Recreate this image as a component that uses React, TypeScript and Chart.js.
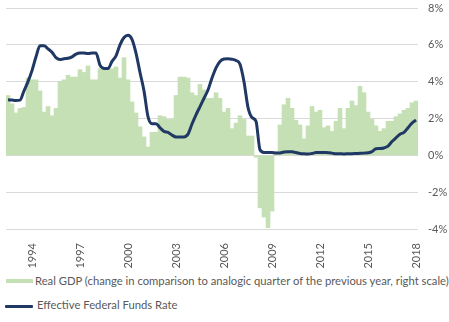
import React, { useEffect, useRef } from "react";
import { Chart, registerables } from "chart.js";

Chart.register(...registerables);

// Quarterly categories: 1993 Q1 ... 2018 Q3
const firstYear = 1993;
const quarterCount = 103;
const quarterLabels: string[] = [];
for (let k = 0; k < quarterCount; k++) {
  quarterLabels.push(`${firstYear + Math.floor(k / 4)} Q${(k % 4) + 1}`);
}

// Year labels shown on the axis (placed at the Q3 category of each year)
const tickYears = ["1994", "1997", "2000", "2003", "2006", "2009", "2012", "2015", "2018"];
const tickQuarter = "Q3";

// Right-scale ticks
const yMin = -4;
const yMax = 8;
const yStep = 2;

// Real GDP, % change vs same quarter of previous year
const gdpGrowth: number[] = [
  3.25, 2.8, 2.3, 2.55, // 1993
  2.6, 4.2, 4.1, 4.1, // 1994
  3.5, 2.35, 2.65, 2.15, // 1995
  2.55, 4.0, 4.1, 4.35, // 1996
  4.25, 4.25, 4.65, 4.5, // 1997
  4.85, 4.1, 4.1, 4.7, // 1998
  4.65, 4.7, 4.7, 4.8, // 1999
  4.2, 5.3, 4.1, 2.9, // 2000
  2.3, 1.55, 1.0, 0.45, // 2001
  1.25, 1.25, 2.15, 2.1, // 2002
  1.95, 1.95, 3.25, 4.25, // 2003
  4.25, 4.2, 3.4, 3.25, // 2004
  3.85, 3.55, 3.1, 3.1, // 2005
  3.4, 3.1, 2.35, 2.55, // 2006
  1.45, 1.75, 2.15, 1.95, // 2007
  1.05, 1.05, -0.1, -2.85, // 2008
  -3.35, -3.93, -3.03, 0.2, // 2009
  1.65, 2.75, 3.1, 2.55, // 2010
  1.9, 1.65, 0.9, 1.6, // 2011
  2.65, 2.35, 2.45, 1.5, // 2012
  1.6, 1.3, 1.85, 2.55, // 2013
  1.45, 2.55, 2.95, 2.7, // 2014
  3.75, 3.4, 2.35, 1.95, // 2015
  1.6, 1.3, 1.45, 1.85, // 2016
  1.85, 2.1, 2.25, 2.45, // 2017
  2.55, 2.85, 2.95, // 2018
];

// Effective Federal Funds Rate, %
const fedFundsRate: number[] = [
  3.02, 3.0, 2.98, 3.0, // 1993
  3.5, 4.0, 4.6, 5.35, // 1994
  5.95, 5.95, 5.78, 5.6, // 1995
  5.3, 5.2, 5.25, 5.27, // 1996
  5.35, 5.5, 5.56, 5.55, // 1997
  5.53, 5.55, 5.56, 4.9, // 1998
  4.72, 4.71, 5.1, 5.4, // 1999
  6.0, 6.4, 6.52, 6.3, // 2000
  5.55, 4.5, 3.5, 2.1, // 2001
  1.72, 1.72, 1.5, 1.3, // 2002
  1.25, 1.1, 1.0, 1.0, // 2003
  1.0, 1.15, 1.7, 2.2, // 2004
  2.65, 3.1, 3.55, 4.2, // 2005
  4.75, 5.1, 5.23, 5.25, // 2006
  5.22, 5.15, 4.95, 4.0, // 2007
  2.6, 2.05, 1.85, 0.3, // 2008
  0.16, 0.16, 0.15, 0.12, // 2009
  0.13, 0.18, 0.2, 0.19, // 2010
  0.15, 0.1, 0.08, 0.07, // 2011
  0.1, 0.15, 0.15, 0.16, // 2012
  0.14, 0.12, 0.08, 0.09, // 2013
  0.07, 0.09, 0.09, 0.1, // 2014
  0.11, 0.12, 0.14, 0.2, // 2015
  0.36, 0.37, 0.4, 0.5, // 2016
  0.75, 0.95, 1.15, 1.25, // 2017
  1.5, 1.75, 1.92, // 2018
];

const gdpLabel =
  "Real GDP (change in comparison to analogic quarter of the previous year, right scale)";
const rateLabel = "Effective Federal Funds Rate";

const GREEN = "#C5E0B4";
const NAVY = "#1F3864";
const TEXT = "#595959";
const GRID = "#D9D9D9";
const FONT = "Lato, 'Open Sans', sans-serif";

export default function App() {
  const canvasRef = useRef<HTMLCanvasElement | null>(null);

  useEffect(() => {
    if (!canvasRef.current) return;
    Chart.defaults.font.family = FONT;
    const chart = new Chart(canvasRef.current, {
      type: "bar",
      data: {
        labels: quarterLabels,
        datasets: [
          {
            type: "line",
            label: rateLabel,
            data: fedFundsRate,
            borderColor: NAVY,
            backgroundColor: NAVY,
            borderWidth: 3,
            pointRadius: 0,
            tension: 0.4,
            cubicInterpolationMode: "monotone",
            order: 1,
          } as any,
          {
            type: "bar",
            label: gdpLabel,
            data: gdpGrowth,
            backgroundColor: GREEN,
            borderWidth: 0,
            barPercentage: 1,
            categoryPercentage: 1,
            order: 2,
          },
        ],
      },
      options: {
        responsive: false,
        maintainAspectRatio: false,
        animation: false,
        layout: { padding: { left: 6, top: 8, right: 0, bottom: 0 } },
        plugins: {
          legend: { display: false },
          tooltip: { enabled: false },
        },
        scales: {
          x: {
            grid: { display: false },
            border: { display: false },
            ticks: {
              autoSkip: false,
              maxRotation: 90,
              minRotation: 90,
              padding: 6,
              color: TEXT,
              font: { family: FONT, size: 11 },
              callback: (_v: any, i: number) => {
                const lab = quarterLabels[i];
                const [yr, q] = lab.split(" ");
                return q === tickQuarter && tickYears.includes(yr) ? yr : "";
              },
            },
            afterFit: (s: any) => {
              s.height = 39;
            },
          },
          y: {
            position: "right",
            min: yMin,
            max: yMax,
            ticks: {
              stepSize: yStep,
              padding: 10,
              color: TEXT,
              font: { family: FONT, size: 11 },
              callback: (v: any) => `${v}%`,
            },
            grid: { color: GRID, drawTicks: false, lineWidth: 1 },
            border: { display: false },
            afterFit: (s: any) => {
              s.width = 31;
              s.paddingTop = 7;
              s.paddingBottom = 7;
            },
          },
        },
      },
    });
    return () => chart.destroy();
  }, []);

  const textStyle: React.CSSProperties = {
    position: "absolute",
    fontFamily: FONT,
    fontSize: 11.25,
    lineHeight: "13px",
    color: TEXT,
    whiteSpace: "nowrap",
  };

  return (
    <div
      style={{
        position: "absolute",
        left: 0,
        top: 0,
        width: 449,
        height: 322,
        background: "#ffffff",
        overflow: "hidden",
      }}
    >
      <canvas
        ref={canvasRef}
        width={449}
        height={268}
        style={{ position: "absolute", left: 0, top: 0, width: 449, height: 268 }}
      />
      <div style={{ position: "absolute", left: 6, top: 279, width: 27, height: 4, background: GREEN }} />
      <div style={{ ...textStyle, left: 35, top: 274 }}>{gdpLabel}</div>
      <div style={{ position: "absolute", left: 5, top: 305, width: 28, height: 3, background: NAVY, borderRadius: 1 }} />
      <div style={{ ...textStyle, left: 37, top: 298 }}>{rateLabel}</div>
    </div>
  );
}
